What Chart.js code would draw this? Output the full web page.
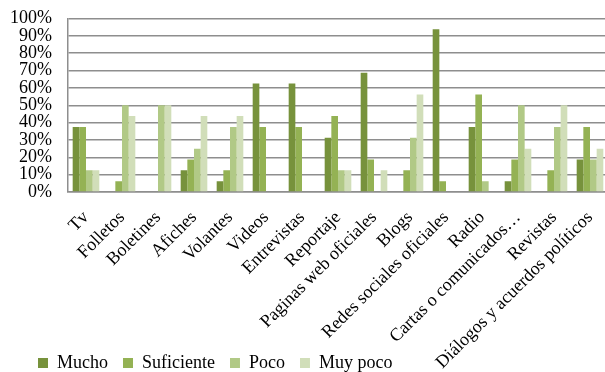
<!DOCTYPE html>
<html>
<head>
<meta charset="utf-8">
<script src="https://cdn.jsdelivr.net/npm/chart.js@4"></script>
<style>
  html, body { margin: 0; padding: 0; background: #ffffff; overflow: hidden; }
  #wrap { width: 608px; height: 372px; }
</style>
</head>
<body>
<div id="wrap"><canvas id="c" width="608" height="372"></canvas></div>
<script>
// Media channels rated by level of use (share of respondents, %)
const categories = [
  'Tv', 'Folletos', 'Boletines', 'Afiches', 'Volantes', 'Videos', 'Entrevistas',
  'Reportaje', 'Paginas web oficiales', 'Blogs', 'Redes sociales oficiales',
  'Radio', 'Cartas o comunicados…', 'Revistas', 'Diálogos y acuerdos políticos'
];
const mucho      = [37.5, 0, 0, 12.5, 6.25, 62.5, 62.5, 31.25, 68.75, 0, 93.75, 37.5, 6.25, 0, 18.75];
const suficiente = [37.5, 6.25, 0, 18.75, 12.5, 37.5, 37.5, 43.75, 18.75, 12.5, 6.25, 56.25, 18.75, 12.5, 37.5];
const poco       = [12.5, 50, 50, 25, 37.5, 0, 0, 12.5, 0, 31.25, 0, 6.25, 50, 37.5, 18.75];
const muyPoco    = [12.5, 43.75, 50, 43.75, 43.75, 0, 0, 12.5, 12.5, 56.25, 0, 0, 25, 50, 25];
const seriesNames = ['Mucho', 'Suficiente', 'Poco', 'Muy poco'];
const yTicks = [0, 10, 20, 30, 40, 50, 60, 70, 80, 90, 100];

const colors = ['#77923c', '#94b254', '#b1c986', '#d1deb9'];
const serif = "'Liberation Serif', 'Times New Roman', serif";
Chart.defaults.font.family = serif;
Chart.defaults.color = '#000000';

// Legend sits low and to the left; the x-axis label band runs to the bottom edge
const layoutTweaks = {
  id: 'layoutTweaks',
  afterLayout(chart) {
    const lg = chart.legend;
    if (lg) {
      const w = lg.width, h = lg.height;
      lg.left = 23; lg.right = lg.left + w;
      lg.top = 339; lg.bottom = lg.top + h;
    }
    const x = chart.scales.x;
    if (x) x.bottom = chart.height;
  }
};

new Chart(document.getElementById('c'), {
  type: 'bar',
  data: {
    labels: categories,
    datasets: [mucho, suficiente, poco, muyPoco].map((d, i) => ({
      label: seriesNames[i],
      data: d,
      backgroundColor: colors[i],
      borderWidth: 0,
      categoryPercentage: 0.74,
      barPercentage: 1.0
    }))
  },
  options: {
    responsive: false,
    animation: false,
    layout: { autoPadding: false, padding: { left: 0, right: 0, top: 18.5, bottom: 0 } },
    plugins: {
      tooltip: { enabled: false },
      legend: {
        position: 'bottom',
        align: 'start',
        labels: {
          font: { family: serif, size: 18 },
          color: '#000000',
          boxWidth: 10,
          boxHeight: 10,
          padding: 15
        }
      }
    },
    scales: {
      x: {
        grid: { display: false, drawTicks: false },
        border: { display: true, color: '#8e8e8e', width: 1.5 },
        ticks: {
          font: { family: serif, size: 18 },
          color: '#000000',
          autoSkip: false,
          minRotation: 45,
          maxRotation: 45,
          padding: 15
        },
        afterFit(s) {
          const lh = s.chart.legend ? s.chart.legend.height : 0;
          s.height = s.chart.height - 192 - lh;
          s.paddingLeft = 0;
          s.paddingRight = 0;
        }
      },
      y: {
        min: 0,
        max: 100,
        afterBuildTicks(s) { s.ticks = yTicks.map(v => ({ value: v })); },
        grid: { color: '#8e8e8e', lineWidth: 1.5, drawTicks: false },
        border: { display: true, color: '#8e8e8e', width: 1.5 },
        ticks: {
          font: { family: serif, size: 18 },
          color: '#000000',
          autoSkip: false,
          padding: 16,
          callback: v => v + '%'
        },
        afterFit(s) {
          s.width = 68;
          s.paddingTop = 0;
          s.paddingBottom = 0;
        }
      }
    }
  },
  plugins: [layoutTweaks]
});
</script>
</body>
</html>
